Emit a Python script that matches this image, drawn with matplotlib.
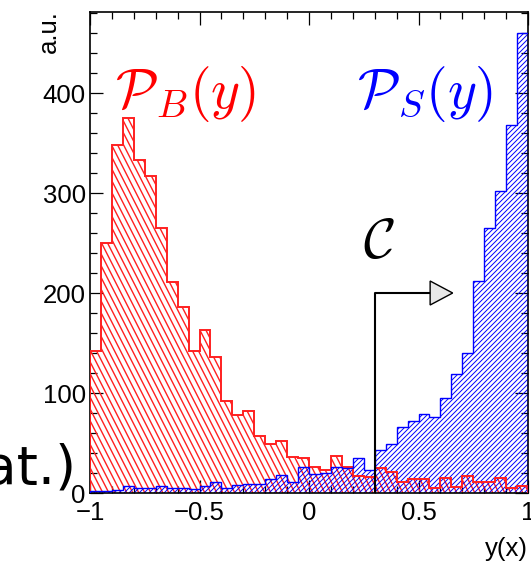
import numpy as np
import matplotlib
matplotlib.use("Agg")
import matplotlib.pyplot as plt
from matplotlib.collections import LineCollection
from matplotlib.patches import Polygon
from matplotlib.ticker import MultipleLocator, FuncFormatter

plt.rcParams['font.family'] = ['Liberation Sans', 'DejaVu Sans']
plt.rcParams['mathtext.fontset'] = 'cm'

# 40 bins between -1 and 1
edges = np.linspace(-1, 1, 41)

# background (red)
bkg = [142, 250, 348, 375, 333, 317, 265, 211, 186, 142,
       163, 136, 92, 78, 82, 57, 49, 52, 36, 35,
       26, 23, 37, 26, 17, 16, 25, 21, 11, 14,
       14, 5, 15, 6, 17, 11, 11, 15, 5, 7]

# signal (blue)
sig = [2, 2, 3, 7, 5, 5, 7, 5, 5, 4,
       7, 11, 5, 8, 9, 9, 14, 18, 11, 26,
       19, 20, 26, 25, 35, 23, 43, 49, 66, 72,
       79, 76, 95, 119, 140, 212, 265, 302, 368, 460]

cut = 0.3
arrow_y = 200

fig = plt.figure(figsize=(5.31, 5.61), dpi=100)
ax = fig.add_axes([0.1695, 0.1212, 0.8249, 0.8574])


def hatch(patch, color, angle, step, lw):
    # hatch lines at a given angle (pixel space), clipped to the patch
    bb = ax.get_window_extent()
    w, h = bb.width, bb.height
    dx = h / np.tan(np.radians(angle))
    segs = []
    for c in np.arange(-abs(dx) - step, w + abs(dx) + step, step):
        segs.append([(c / w, 0), ((c + dx) / w, 1)])
    lc = LineCollection(segs, transform=ax.transAxes, colors=color,
                        linewidths=lw, zorder=2)
    ax.add_collection(lc, autolim=False)
    lc.set_clip_path(patch)


red = ax.stairs(bkg, edges, fill=True, facecolor='none', edgecolor='#ff2020',
                lw=1.4, zorder=3)
hatch(red, '#ff2020', 117, 6.0, 1.0)

blue = ax.stairs(sig, edges, fill=True, facecolor='none', edgecolor='blue',
                 lw=1.0, zorder=3)
hatch(blue, 'blue', 45, 5.0, 0.7)

# cut arrow
head0, head1 = 0.553, 0.656
ax.plot([cut, cut, head0], [0, arrow_y, arrow_y], color='k', lw=1.5, zorder=5)
ax.add_patch(Polygon([(head0, arrow_y + 12), (head0, arrow_y - 12), (head1, arrow_y)],
                     closed=True, facecolor='#e8e8e8', edgecolor='k', lw=1.0, zorder=5))

ax.text(-0.886, 385, r'$\mathcal{P}_{B}(y)$', color='red', fontsize=40,
        ha='left', va='baseline')
ax.text(0.219, 385, r'$\mathcal{P}_{S}(y)$', color='blue', fontsize=40,
        ha='left', va='baseline')
ax.text(0.247, 235, r'$\mathcal{C}$', color='k', fontsize=40,
        ha='left', va='baseline')

fig.text(76 / 531, 1 - 483 / 561, '(stat.)', fontsize=39, family='DejaVu Sans',
         ha='right', va='baseline')

ax.set_xlim(-1, 1)
ax.set_ylim(0, 481)

ax.xaxis.set_major_locator(MultipleLocator(0.5))
ax.xaxis.set_minor_locator(MultipleLocator(0.1))
ax.yaxis.set_major_locator(MultipleLocator(100))
ax.yaxis.set_minor_locator(MultipleLocator(20))
ax.xaxis.set_major_formatter(FuncFormatter(lambda v, p: ('%g' % v).replace('-', '\u2212')))

ax.tick_params(which='both', direction='in', top=True, right=True, width=0.9,
               labelsize=18.5)
ax.tick_params(which='major', length=9.4)
ax.tick_params(which='minor', length=4.7)
ax.tick_params(axis='x', pad=6)
ax.tick_params(axis='y', pad=3)
for s in ax.spines.values():
    s.set_linewidth(1.2)

ax.set_xlabel('y(x)', loc='right', fontsize=18.5)
ax.xaxis.set_label_coords(1.0, -0.092)
ax.set_ylabel('a.u.', loc='top', fontsize=18.5)
ax.yaxis.set_label_coords(-0.067, 1.004)

fig.savefig('out.png', dpi=100)
